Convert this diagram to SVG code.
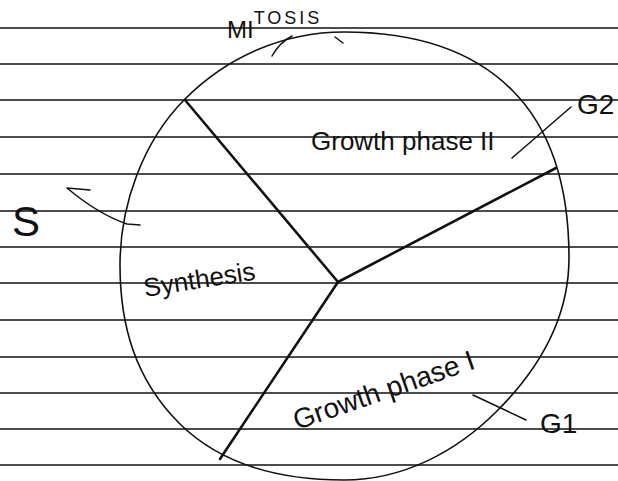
<svg xmlns="http://www.w3.org/2000/svg" width="618" height="481" viewBox="0 0 618 481">
<style>
.rule{stroke:#111;stroke-width:1.6}
.ink{fill:none;stroke:#111;stroke-linecap:round;stroke-linejoin:round}
.spoke{stroke-width:2.6}
.ptr{stroke-width:1.5}
.lbl{font-family:"Liberation Sans",Arial,sans-serif;fill:#111}
</style>
<rect width="618" height="481" fill="#fff"/>
<g id="paper">
<line class="rule" x1="0" y1="28" x2="618" y2="28"/>
<line class="rule" x1="0" y1="64" x2="618" y2="64"/>
<line class="rule" x1="0" y1="100" x2="618" y2="100"/>
<line class="rule" x1="0" y1="137" x2="618" y2="137"/>
<line class="rule" x1="0" y1="174" x2="618" y2="174"/>
<line class="rule" x1="0" y1="211" x2="618" y2="211"/>
<line class="rule" x1="0" y1="247" x2="618" y2="247"/>
<line class="rule" x1="0" y1="283" x2="618" y2="283"/>
<line class="rule" x1="0" y1="320" x2="618" y2="320"/>
<line class="rule" x1="0" y1="357" x2="618" y2="357"/>
<line class="rule" x1="0" y1="393" x2="618" y2="393"/>
<line class="rule" x1="0" y1="429" x2="618" y2="429"/>
<line class="rule" x1="0" y1="465" x2="618" y2="465"/>
</g>
<g id="cycle">
<path class="ink" stroke-width="1.6" d="M569,258 C569,318 538,370 497,411 C456,452 403,480 344,480 C285,480 223,467 179,423 C135,379 120,325 120,265 C120,205 143,141 185,99 C227,57 283,32 344,32 C405,32 467.5,45.5 512,90 C556,134 569,198 569,258 Z"/>
</g>
<g id="connectors">
<line class="ink spoke" x1="185" y1="100" x2="338" y2="282"/>
<line class="ink spoke" x1="338" y1="282" x2="556" y2="168"/>
<line class="ink spoke" x1="338" y1="282" x2="220" y2="459"/>
<path class="ink ptr" d="M272,56 Q280,42 292,36"/>
<path class="ink ptr" d="M335,37 L343,43"/>
<line class="ink ptr" x1="571" y1="107" x2="512" y2="158"/>
<path class="ink ptr" d="M90,190 L67,188 Q98,214 127,224 L140,225"/>
<line class="ink ptr" x1="473" y1="395" x2="526" y2="420"/>
</g>
<g id="mitosis">
<text class="lbl" x="227" y="38" font-size="24">MI<tspan font-size="18" dy="-14" letter-spacing="3">TOSIS</tspan></text>
</g>
<g id="g2-phase">
<text class="lbl" x="311" y="150" font-size="26">Growth phase II</text>
<text class="lbl" x="577" y="114" font-size="28">G2</text>
</g>
<g id="s-phase">
<text class="lbl" x="145" y="297" font-size="26" transform="rotate(-9 145 297)">Synthesis</text>
<text class="lbl" x="12" y="236" font-size="42">S</text>
</g>
<g id="g1-phase">
<text class="lbl" x="297" y="430" font-size="28" transform="rotate(-19 297 430)">Growth phase I</text>
<text class="lbl" x="540" y="433" font-size="28">G1</text>
</g>
</svg>
